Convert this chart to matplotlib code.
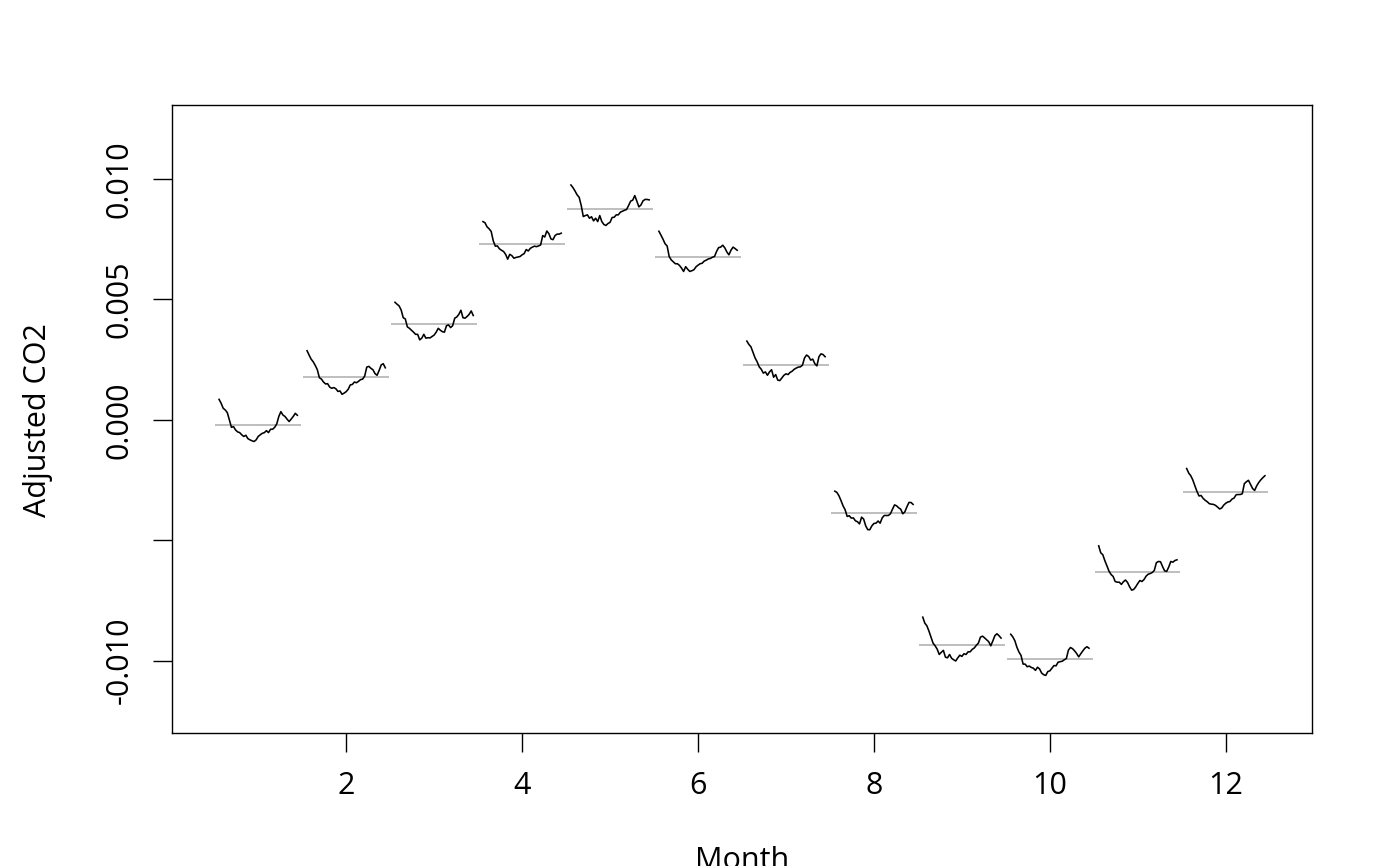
import numpy as np
import matplotlib
matplotlib.use("Agg")
import matplotlib.pyplot as plt

plt.rcParams['font.family'] = ['Open Sans', 'DejaVu Sans']

months = list(range(1, 13))

# level of each month's sub-series (units of 1e-4)
levels = [-2.1, 17.5, 39.4, 72.9, 87.3, 67.8, 22.7, -39.0, -93.5, -99.2, -63.5, -30.4]

# within-month sub-series relative to the level (units of 1e-4), one value per year
dev_jan = [10.6, 9.0, 6.9, 6.2, 5.1, 2.1, -1.0, -0.7, -2.1, -2.9, -3.2, -4.1, -4.8, -4.3, -5.7, -6.2, -6.6, -6.9, -6.2, -4.8,
           -4.1, -3.5, -3.2, -2.4, -3.2, -1.8, -1.8, -1.0, 0.4, 3.5, 5.5, 4.1, 3.5, 2.4, 1.4, 2.4, 3.5, 4.8, 4.0]
dev_feb = [11.2, 9.4, 7.7, 6.6, 5.1, 3.3, 0.0, -0.6, -1.8, -2.6, -2.5, -3.9, -4.4, -4.1, -4.6, -5.7, -5.5, -6.9, -6.4, -5.8,
           -4.8, -3.0, -2.8, -1.8, -2.1, -1.5, -0.8, -0.6, 0.7, 4.4, 4.7, 3.9, 3.3, 1.7, 1.0, 3.0, 5.3, 5.8, 4.1]
dev_mar = [9.4, 8.6, 7.9, 6.2, 3.0, 2.5, -0.8, -1.4, -2.2, -3.0, -3.9, -3.9, -6.2, -5.5, -3.9, -5.5, -5.3, -5.4, -4.8, -4.2,
           -3.0, -1.4, -2.2, -2.8, -3.0, -0.3, 0.0, -1.1, -0.3, 2.8, 3.3, 4.4, 6.1, 3.0, 2.8, 3.5, 4.4, 5.8, 3.9]
dev_apr = [9.4, 8.9, 7.2, 6.4, 5.3, 1.4, -0.8, -0.7, -1.9, -2.5, -3.0, -4.2, -6.2, -4.2, -4.7, -5.8, -5.5, -5.3, -5.1, -4.4,
           -3.9, -2.2, -2.8, -1.7, -1.2, -0.8, -1.0, -0.7, -0.3, 3.6, 3.0, 5.5, 4.4, 2.2, 1.9, 3.6, 4.2, 4.2, 4.6]
dev_may = [10.2, 9.1, 7.7, 6.1, 5.1, 1.7, -2.9, -2.5, -2.2, -3.6, -3.0, -4.7, -3.6, -5.0, -2.5, -5.0, -6.2, -6.6, -5.8, -5.3,
           -3.3, -3.2, -2.2, -2.2, -1.1, -0.7, -0.3, 0.0, 1.7, 3.5, 3.9, 5.8, 3.5, 1.1, 1.9, 3.6, 4.2, 4.2, 4.0]
dev_jun = [10.5, 8.9, 7.2, 5.3, 4.4, 0.0, -1.4, -2.2, -3.0, -3.0, -3.7, -4.8, -6.2, -4.2, -5.3, -6.2, -5.9, -5.5, -4.3, -3.6,
           -3.0, -2.8, -1.9, -1.5, -1.0, -0.8, -0.3, 0.0, 2.1, 3.7, 3.9, 4.7, 3.6, 1.9, 0.7, 2.6, 3.9, 3.3, 2.6]
dev_jul = [10.0, 8.6, 7.6, 5.3, 3.0, 1.4, -0.7, -1.7, -3.3, -2.8, -4.2, -2.8, -1.9, -5.0, -3.9, -6.2, -6.4, -5.3, -4.2, -3.6,
           -3.9, -3.0, -2.5, -1.7, -1.2, -0.8, -0.7, 0.0, 3.0, 4.2, 3.6, 2.1, 2.5, 0.6, -0.3, 3.5, 4.7, 4.4, 3.5]
dev_aug = [9.4, 8.9, 7.5, 5.5, 3.3, 1.7, -1.1, -0.8, -1.8, -1.7, -2.9, -3.3, -4.2, -1.4, -2.2, -5.0, -6.6, -6.6, -5.0, -4.0,
           -3.9, -3.0, -3.9, -1.7, -0.7, -0.7, -0.7, 0.0, 1.9, 3.7, 3.3, 2.5, 1.9, 0.0, 0.8, 2.9, 4.7, 4.7, 3.9]
dev_sep = [11.6, 9.1, 8.0, 5.8, 3.3, 0.8, -0.3, -1.7, -3.9, -3.0, -2.2, -5.0, -5.3, -3.9, -5.5, -6.1, -6.6, -5.3, -4.2, -4.7,
           -3.6, -3.9, -2.8, -2.8, -1.8, -1.2, -0.1, 0.8, 3.3, 3.7, 3.0, 2.2, 1.4, -0.3, 1.7, 3.9, 4.7, 3.9, 2.9]
dev_oct = [10.2, 9.1, 7.5, 4.8, 2.8, 1.4, -2.2, -2.2, -3.3, -3.0, -3.6, -3.9, -4.8, -3.5, -4.2, -5.9, -6.6, -6.9, -5.3, -5.0,
           -3.9, -2.8, -2.9, -1.4, -1.2, -1.0, -0.4, 0.1, 3.6, 4.7, 4.2, 3.3, 2.2, 0.8, 2.1, 3.3, 4.4, 5.0, 4.4]
dev_nov = [11.2, 8.3, 7.5, 5.0, 2.9, 0.7, -0.7, -1.5, -3.6, -3.9, -3.9, -4.8, -3.7, -3.0, -4.0, -5.8, -7.2, -6.9, -5.8, -4.4,
           -3.2, -3.6, -2.8, -1.4, -0.6, -0.3, 0.1, 1.0, 4.2, 4.7, 4.6, 2.6, 0.8, 0.6, 2.4, 4.7, 4.4, 5.1, 5.4]
dev_dec = [10.2, 8.3, 7.2, 5.4, 3.0, 0.7, -1.2, -1.0, -2.2, -3.0, -3.6, -4.4, -4.6, -4.7, -5.1, -5.8, -6.6, -6.2, -5.0, -4.2,
           -3.7, -3.5, -2.5, -2.1, -0.7, -0.6, -0.6, -0.3, 3.9, 4.7, 5.3, 3.6, 1.9, 1.1, 3.0, 4.4, 5.5, 6.4, 7.2]

devs = [dev_jan, dev_feb, dev_mar, dev_apr, dev_may, dev_jun,
        dev_jul, dev_aug, dev_sep, dev_oct, dev_nov, dev_dec]

yticks = [-0.010, -0.005, 0.000, 0.005, 0.010]
ytick_labels = ['-0.010', '', '0.000', '0.005', '0.010']
xticks = [2, 4, 6, 8, 10, 12]

fig = plt.figure(figsize=(14, 8.66), dpi=100)
ax = fig.add_axes([172 / 1400, 1 - 733 / 866, 1140 / 1400, 628 / 866])

for m, lev, d in zip(months, levels, devs):
    y = (lev + np.array(d)) * 1e-4
    x = np.linspace(m - 0.445, m + 0.445, len(y))
    base = y.mean()
    # R monthplot: grey line at the mean of each month's sub-series
    ax.plot([m - 0.49, m + 0.485], [base, base], color='#BEBEBE', lw=1.4, solid_capstyle='butt', zorder=1)
    ax.plot(x, y, color='black', lw=1.15, zorder=2)

ax.set_xlim(0.02, 12.98)
ax.set_ylim(-0.0130, 0.01307)
ax.set_xticks(xticks)
ax.set_xticklabels([str(t) for t in xticks])
ax.set_yticks(yticks)
ax.set_yticklabels(ytick_labels)
ax.tick_params(axis='both', direction='out', length=14, width=1.0, labelsize=22, pad=13)
plt.setp(ax.get_yticklabels(), rotation=90, va='center')
for s in ax.spines.values():
    s.set_linewidth(1.0)

fig.text(742 / 1400, 1 - 846 / 866, 'Month', ha='center', va='top', fontsize=22)
fig.text(38 / 1400, 1 - 420 / 866, 'Adjusted CO2', ha='center', va='center', rotation=90, fontsize=22)

fig.savefig('out.png', dpi=100)
